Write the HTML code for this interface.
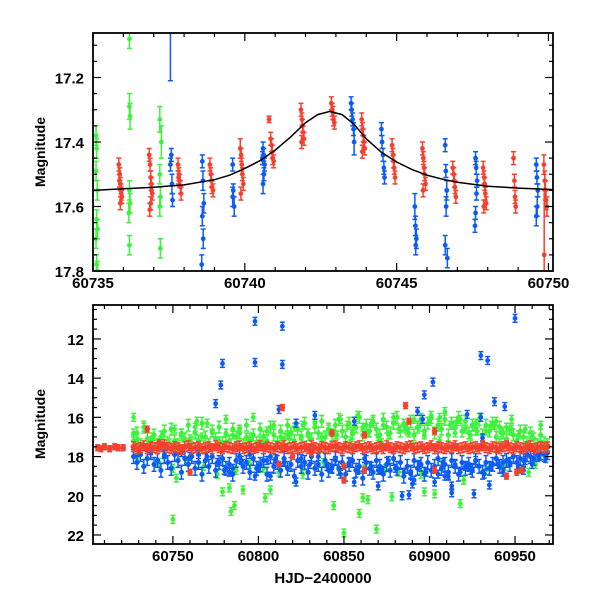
<!DOCTYPE html>
<html><head><meta charset="utf-8"><style>
html,body{margin:0;padding:0;background:#fff}
svg text{font-family:"Liberation Sans",sans-serif;font-weight:bold;fill:#000}
</style></head><body>
<svg id="chart" width="600" height="600" viewBox="0 0 600 600" xmlns="http://www.w3.org/2000/svg">
<g id="top"></g>
<g id="bot"></g>
<text transform="translate(45,152) rotate(-90)" text-anchor="middle" font-size="14">Magnitude</text>
<text transform="translate(45,424) rotate(-90)" text-anchor="middle" font-size="14">Magnitude</text>
<text x="323" y="583" text-anchor="middle" font-size="15">HJD−2400000</text>
</svg>
<script>
// ---- top panel data ----
const topModelX=[60735,60736,60737,60738,60739,60739.5,60740,60740.5,60741,60741.5,60742,60742.4,60742.8,60743.2,60743.6,60744,60744.5,60745,60745.5,60746,60746.5,60747,60748,60749,60750,60750.2];
const topModelY=[17.55,17.545,17.54,17.533,17.517,17.503,17.482,17.458,17.425,17.385,17.34,17.315,17.305,17.315,17.345,17.39,17.432,17.462,17.485,17.503,17.515,17.525,17.537,17.543,17.547,17.548];
const topRedX=[60735.85,60735.88,60735.9,60735.92,60735.95,60735.9,60735.87,60735.93,60736.85,60736.88,60736.9,60736.92,60736.95,60736.9,60736.87,60736.93,60737.8,60737.83,60737.85,60737.88,60737.9,60737.82,60738.85,60738.88,60738.9,60738.92,60738.95,60739.85,60739.88,60739.9,60739.92,60739.95,60739.87,60740.85,60740.88,60740.9,60740.92,60740.95,60740.8,60741.85,60741.88,60741.9,60741.92,60741.95,60741.87,60742.85,60742.88,60742.9,60742.92,60742.95,60743.85,60743.88,60743.9,60743.92,60743.95,60743.87,60744.85,60744.88,60744.9,60744.92,60744.95,60745.85,60745.88,60745.9,60745.92,60745.95,60745.87,60746.85,60746.88,60746.9,60746.92,60746.95,60747.85,60747.88,60747.9,60747.92,60747.95,60747.87,60748.85,60748.88,60748.9,60748.92,60749.85,60749.88,60749.9,60749.92,60749.95,60749.86];
const topRedY=[17.47,17.5,17.53,17.55,17.57,17.59,17.52,17.56,17.44,17.47,17.51,17.53,17.56,17.59,17.61,17.55,17.47,17.5,17.52,17.54,17.56,17.51,17.47,17.5,17.52,17.54,17.55,17.42,17.44,17.47,17.5,17.53,17.56,17.39,17.41,17.43,17.45,17.46,17.33,17.3,17.33,17.35,17.37,17.39,17.4,17.28,17.3,17.31,17.33,17.34,17.33,17.36,17.38,17.4,17.42,17.43,17.41,17.44,17.46,17.48,17.51,17.42,17.45,17.48,17.5,17.53,17.55,17.48,17.5,17.52,17.54,17.57,17.48,17.51,17.53,17.56,17.59,17.6,17.45,17.52,17.57,17.6,17.47,17.52,17.55,17.58,17.6,17.75];
const topRedE=[0.02,0.02,0.02,0.02,0.02,0.02,0.02,0.02,0.02,0.02,0.02,0.02,0.02,0.02,0.02,0.02,0.02,0.02,0.02,0.02,0.02,0.02,0.02,0.02,0.02,0.02,0.02,0.03,0.02,0.02,0.02,0.02,0.02,0.02,0.02,0.02,0.02,0.02,0.01,0.02,0.02,0.02,0.02,0.02,0.02,0.02,0.02,0.02,0.02,0.02,0.02,0.02,0.02,0.02,0.02,0.02,0.02,0.02,0.02,0.02,0.02,0.02,0.02,0.02,0.02,0.02,0.02,0.02,0.02,0.02,0.02,0.02,0.02,0.02,0.02,0.02,0.02,0.02,0.02,0.02,0.02,0.02,0.03,0.03,0.03,0.03,0.03,0.2];
const topBlueX=[60737.55,60737.58,60737.6,60737.62,60737.55,60738.6,60738.62,60738.65,60738.6,60738.63,60738.58,60739.6,60739.62,60739.65,60739.6,60740.6,60740.62,60740.65,60740.63,60740.6,60740.58,60743.5,60743.52,60743.55,60743.58,60743.6,60744.5,60744.52,60744.55,60744.58,60744.6,60745.6,60745.62,60745.65,60745.63,60746.6,60746.62,60746.65,60746.63,60746.6,60746.67,60747.6,60747.62,60747.65,60747.63,60747.6,60747.58,60749.6,60749.62,60749.65,60749.63,60749.6];
const topBlueY=[17.05,17.44,17.53,17.58,17.47,17.46,17.52,17.59,17.63,17.7,17.78,17.47,17.55,17.6,17.57,17.42,17.44,17.47,17.5,17.53,17.45,17.28,17.3,17.33,17.36,17.4,17.36,17.4,17.44,17.48,17.51,17.6,17.66,17.7,17.72,17.41,17.49,17.55,17.6,17.72,17.76,17.45,17.48,17.52,17.56,17.62,17.66,17.47,17.51,17.55,17.6,17.63];
const topBlueE=[0.16,0.02,0.03,0.02,0.02,0.02,0.03,0.03,0.03,0.03,0.03,0.02,0.02,0.03,0.03,0.02,0.02,0.02,0.02,0.03,0.02,0.02,0.02,0.02,0.02,0.04,0.02,0.02,0.02,0.02,0.02,0.04,0.03,0.03,0.03,0.02,0.02,0.03,0.03,0.03,0.03,0.02,0.02,0.02,0.02,0.02,0.02,0.02,0.02,0.02,0.03,0.03];
const topGreenX=[60735.1,60735.12,60735.1,60735.14,60735.12,60735.15,60735.1,60735.12,60735.14,60736.2,60736.2,60736.22,60736.2,60736.22,60736.18,60736.2,60737.2,60737.25,60737.2,60737.22,60737.2,60737.22,60750.3,60750.28];
const topGreenY=[17.38,17.42,17.49,17.55,17.64,17.67,17.7,17.78,17.8,17.08,17.29,17.32,17.55,17.59,17.62,17.72,17.33,17.4,17.5,17.57,17.6,17.73,17.07,17.52];
const topGreenE=[0.03,0.03,0.03,0.03,0.03,0.03,0.03,0.03,0.03,0.03,0.04,0.04,0.03,0.03,0.03,0.03,0.04,0.05,0.03,0.03,0.03,0.03,0.03,0.08];
const topXTicks=[60735,60740,60745,60750];
const topYTicks=[17.2,17.4,17.6,17.8];

// ---- bottom panel data ----
const botBandX=[60727,60729,60731,60733,60735,60737,60739,60741,60743,60745,60747,60749,60751,60753,60755,60757,60759,60761,60763,60765,60767,60769,60771,60773,60775,60777,60779,60781,60783,60785,60787,60789,60791,60793,60795,60797,60799,60801,60803,60805,60807,60809,60811,60813,60815,60817,60819,60821,60823,60825,60827,60829,60831,60833,60835,60837,60839,60841,60843,60845,60847,60849,60851,60853,60855,60857,60859,60861,60863,60865,60867,60869,60871,60873,60875,60877,60879,60881,60883,60885,60887,60889,60891,60893,60895,60897,60899,60901,60903,60905,60907,60909,60911,60913,60915,60917,60919,60921,60923,60925,60927,60929,60931,60933,60935,60937,60939,60941,60943,60945,60947,60949,60951,60953,60955,60957,60959,60961,60963,60965,60967,60969];
const botRedBandY=[17.5,17.6,17.55,17.45,17.6,17.5,17.55,17.6,17.5,17.4,17.55,17.6,17.5,17.55,17.65,17.5,17.45,17.6,17.55,17.5,17.6,17.55,17.5,17.6,17.45,17.55,17.6,17.5,17.55,17.6,17.5,17.45,17.6,17.55,17.5,17.6,17.55,17.45,17.6,17.5,17.55,17.6,17.5,17.55,17.45,17.6,17.55,17.5,17.6,17.55,17.5,17.6,17.45,17.55,17.6,17.5,17.55,17.6,17.5,17.45,17.55,17.6,17.5,17.55,17.6,17.5,17.45,17.6,17.55,17.5,17.6,17.55,17.5,17.6,17.45,17.55,17.6,17.5,17.55,17.6,17.5,17.45,17.6,17.55,17.5,17.6,17.55,17.45,17.6,17.5,17.55,17.6,17.5,17.55,17.45,17.6,17.55,17.5,17.6,17.55,17.5,17.6,17.45,17.55,17.6,17.5,17.55,17.6,17.5,17.45,17.55,17.6,17.5,17.55,17.6,17.5,17.45,17.6,17.55,17.5,17.55,17.5];
const botBlueBandY=[18.0,18.3,17.9,18.5,18.1,17.8,18.4,18.2,18.7,18.0,18.3,18.6,17.9,18.2,18.8,18.1,18.4,18.0,18.6,18.3,18.9,18.2,18.5,18.0,18.7,18.3,18.1,18.6,18.4,18.9,18.2,18.0,18.5,18.3,18.8,18.1,18.6,18.4,18.2,18.9,18.0,18.5,18.3,18.7,18.1,18.6,18.4,19.0,18.2,18.5,18.3,18.8,18.0,18.6,18.4,18.9,18.2,18.7,18.5,18.1,18.6,18.3,18.9,18.4,18.2,18.7,18.5,19.1,18.3,18.6,18.8,18.2,18.5,18.9,18.4,18.7,18.1,18.6,18.3,19.0,18.5,18.8,18.2,18.6,18.4,18.9,18.3,18.7,18.5,18.1,18.6,18.4,18.8,18.2,18.5,18.9,18.3,18.6,18.4,18.7,18.2,18.5,18.8,18.3,18.6,18.4,18.1,18.5,18.3,18.2,18.4,18.0,18.3,18.1,18.2,17.9,18.0,18.1,17.9,17.8,17.9,17.8];
const botGreenBandY=[17.2,16.8,17.4,16.5,17.1,17.3,16.9,17.4,17.0,16.7,17.3,16.6,17.2,17.4,16.9,17.1,16.4,17.3,16.8,17.2,16.3,17.0,17.4,16.7,17.1,16.5,17.3,16.9,17.2,16.6,17.0,16.8,17.4,16.4,17.1,16.9,17.3,16.6,17.0,17.2,16.5,16.9,17.3,16.7,17.1,16.4,16.8,17.2,16.6,17.0,16.3,16.9,17.1,16.5,16.8,16.2,17.0,16.6,16.9,16.4,16.1,16.7,17.0,16.3,16.8,16.5,16.0,16.9,16.4,16.7,16.2,16.6,16.9,16.1,16.5,16.8,16.3,16.0,16.7,16.4,16.6,16.2,16.9,16.5,16.1,16.7,16.3,16.0,16.8,16.4,16.6,16.1,16.9,16.3,16.5,16.0,16.7,16.2,16.8,16.4,16.6,16.1,16.9,16.4,16.7,16.3,17.0,16.5,16.8,17.1,16.6,16.9,17.2,16.7,17.0,17.3,16.8,17.1,17.4,16.9,17.3,17.4];
const botRedX=[60706,60708,60710,60713,60716,60718,60721,60735,60760,60812,60814,60843,60850,60850,60862,60862,60886,60888,60903,60903,60945,60945,60951,60954,60820,60831,60742];
const botRedY=[17.55,17.6,17.5,17.6,17.5,17.55,17.55,16.6,18.8,18.4,15.5,16.8,18.5,19.2,16.9,18.7,15.4,16.2,16.7,18.7,17.4,19.0,18.8,18.7,18.0,17.8,17.3];
const botBlueX=[60798,60798,60814,60814,60779,60778,60775,60812,60833,60822,60856,60893,60896,60897,60902,60922,60930,60930,60934,60938,60944,60950,60931,60856,60884,60888,60903,60913,60926,60935,60870,60822,60807,60798,60870,60913,60922,60737,60745,60755,60760,60765,60770,60776,60780,60785,60790,60795,60800,60805,60810,60815,60825,60830,60835,60840,60845,60848,60853,60858,60862,60866,60872,60876,60880,60885,60889,60891,60894,60898,60905,60908,60911,60915,60918,60921,60924,60927,60932,60936,60940,60943,60947,60952,60956,60960,60964,60968,60730,60783,60843,60890,60909,60925,60955];
const botBlueY=[11.1,13.2,11.35,13.3,13.25,14.35,15.3,15.6,15.9,16.3,16.2,15.7,16.1,14.85,14.2,15.85,16.0,12.85,13.1,15.2,15.45,10.95,17.05,19.3,20.0,19.95,19.3,19.85,19.9,19.45,19.5,19.3,19.0,19.0,18.7,19.5,18.5,17.7,17.9,17.8,18.0,17.9,18.0,18.3,18.7,18.6,18.2,17.9,18.6,18.2,18.1,18.3,18.1,18.4,18.0,18.5,18.2,18.9,18.3,18.7,18.1,18.5,18.7,18.2,18.6,18.8,18.9,19.2,18.4,18.8,18.9,18.3,19.0,18.4,18.8,18.5,18.7,18.2,18.9,18.5,18.4,18.8,18.3,18.6,18.2,18.4,18.0,18.1,17.8,18.8,18.6,19.4,19.0,18.6,18.7];
const botGreenX=[60727,60727,60750,60752,60750,60779,60783,60784,60786,60791,60804,60807,60844,60850,60859,60861,60864,60869,60878,60897,60903,60918,60920,60965,60958,60729,60733,60738,60744,60748,60751,60755,60760,60764,60767,60770,60773,60777,60781,60785,60789,60793,60797,60801,60805,60809,60813,60817,60821,60825,60829,60833,60837,60841,60845,60848,60852,60855,60858,60861,60864,60867,60870,60873,60876,60879,60882,60885,60888,60891,60894,60897,60900,60903,60906,60909,60912,60915,60918,60921,60924,60927,60930,60933,60936,60939,60942,60945,60948,60952,60956,60960,60729,60742,60758,60768,60776,60787,60795,60803,60812,60826,60838,60847,60862,60874,60882,60895,60908,60920,60933,60944,60954,60962,60801,60818,60836,60854,60872,60890,60906,60924,60941,60763,60781,60826,60846,60866,60886,60901,60916,60928,60938,60948];
const botGreenY=[16.0,16.8,21.2,19.1,18.6,19.8,19.6,20.8,20.5,19.7,20.1,19.7,20.5,21.9,20.9,20.1,20.2,21.7,20.05,19.8,19.9,20.4,19.2,16.4,18.8,17.2,16.5,17.0,16.9,17.3,16.6,16.8,17.1,16.2,17.0,16.3,16.8,17.2,16.1,16.9,16.6,17.0,16.0,17.2,16.7,16.4,17.0,16.9,16.5,17.1,16.8,16.3,17.0,16.6,16.9,16.1,16.4,16.7,15.9,16.5,16.8,16.2,17.0,16.4,16.9,16.0,16.6,16.3,16.8,16.1,16.5,16.9,16.2,16.7,16.0,15.7,16.4,16.8,16.1,16.6,16.9,16.3,16.0,16.7,16.4,16.2,16.8,16.5,16.1,16.9,16.6,16.9,18.1,18.3,18.2,18.5,18.9,18.7,18.4,18.6,18.8,18.9,18.3,18.7,18.5,18.6,18.8,18.9,18.4,19.2,18.7,18.5,18.6,18.4,17.4,17.1,17.6,17.2,17.3,17.5,17.2,17.4,17.3,16.5,16.8,16.4,16.9,16.3,16.6,15.9,16.2,16.7,16.4,16.6];
const botXTicks=[60750,60800,60850,60900,60950];
const botYTicks=[12,14,16,18,20,22];

const NS="http://www.w3.org/2000/svg";
const RED="#f6402e",BLUE="#0c5bf2",GREEN="#3df23a";
function mk(tag,attrs,parent){const e=document.createElementNS(NS,tag);for(const k in attrs)e.setAttribute(k,attrs[k]);parent.appendChild(e);return e;}

function panel(g,L,T,R,B,x0,x1,y0,y1,xMaj,xMin,yMaj,yMin,xTicks,yTicks,yFmt){
  const sx=v=>L+(v-x0)/(x1-x0)*(R-L);
  const sy=v=>T+(v-y0)/(y1-y0)*(B-T);
  const cid='clip'+g.id;
  const cp=mk('clipPath',{id:cid},g);mk('rect',{x:L,y:T,width:R-L,height:B-T},cp);
  const data=mk('g',{'clip-path':'url(#'+cid+')'},g);
  
  
  return {sx,sy,data,finish(){
    const fr=mk('rect',{x:L,y:T,width:R-L,height:B-T,fill:'none',stroke:'#000','stroke-width':1.8},g);
    
    
    const tk=mk('g',{stroke:'#000','stroke-width':1.2},g);
    for(let v=Math.ceil(x0/xMin)*xMin;v<=x1+1e-9;v+=xMin){const x=sx(v);const maj=Math.abs(v/xMaj-Math.round(v/xMaj))<1e-6;const l=maj?8:4;
      mk('line',{x1:x,y1:B,x2:x,y2:B-l},tk);mk('line',{x1:x,y1:T,x2:x,y2:T+l},tk);}
    for(let v=Math.ceil(Math.min(y0,y1)/yMin)*yMin;v<=Math.max(y0,y1)+1e-9;v+=yMin){const y=sy(v);const maj=Math.abs(v/yMaj-Math.round(v/yMaj))<1e-6;const l=maj?8:4;
      mk('line',{x1:L,y1:y,x2:L+l,y2:y},tk);mk('line',{x1:R,y1:y,x2:R-l,y2:y},tk);}
    xTicks.forEach(v=>{const t=mk('text',{x:sx(v),y:B+17,'text-anchor':'middle','font-size':15},g);t.textContent=v;
      
      });
    yTicks.forEach(v=>{const t=mk('text',{x:L-9,y:sy(v)+6,'text-anchor':'end','font-size':15},g);t.textContent=yFmt(v);
      
      });
  }};
}
function pts(p,xs,ys,es,color,r,name,defE){
  const g=mk('g',{fill:color,stroke:color,'stroke-width':1.5},p.data);
  
  
  xs.forEach((xv,i)=>{const x=p.sx(xv),y=p.sy(ys[i]);const e=es?es[i]:defE;
    const ya=p.sy(ys[i]-e),yb=p.sy(ys[i]+e);
    mk('line',{x1:x,y1:ya,x2:x,y2:yb},g);mk('line',{x1:x-2.5,y1:ya,x2:x+2.5,y2:ya},g);mk('line',{x1:x-2.5,y1:yb,x2:x+2.5,y2:yb},g);
    const c=mk('circle',{cx:x,cy:y,r:r,stroke:'none'},g);
    
    
  });
}
// top
const tp=panel(document.getElementById('top'),93,33,553,271,60735,60750.15,17.062,17.8,5,1,0.2,0.05,topXTicks,topYTicks,v=>v.toFixed(1));
pts(tp,topGreenX,topGreenY,topGreenE,GREEN,2.4,'green-series');
pts(tp,topBlueX,topBlueY,topBlueE,BLUE,2.4,'blue-series');
pts(tp,topRedX,topRedY,topRedE,RED,2.4,'red-series');
const mp=mk('path',{fill:'none',stroke:'#000','stroke-width':1.5,d:topModelX.map((v,i)=>(i?'L':'M')+tp.sx(v).toFixed(1)+','+tp.sy(topModelY[i]).toFixed(1)).join('')},tp.data);


tp.finish();
// bottom
const bp=panel(document.getElementById('bot'),93,305,553,544,60703.3,60972.2,10.27,22.46,50,10,2,0.5,botXTicks,botYTicks,v=>String(v));
pts(bp,botGreenX,botGreenY,null,GREEN,2.4,'green-series',0.2);
pts(bp,botBandX,botGreenBandY,null,GREEN,2.6,'green-band-series',0.3);
pts(bp,botBlueX,botBlueY,null,BLUE,2.4,'blue-series',0.2);
pts(bp,botBandX,botBlueBandY,null,BLUE,2.6,'blue-band-series',0.35);
pts(bp,botRedX,botRedY,null,RED,2.8,'red-series',0.15);
pts(bp,botBandX,botRedBandY,null,RED,3,'red-band-series',0.25);
bp.finish();
</script>
</body></html>
